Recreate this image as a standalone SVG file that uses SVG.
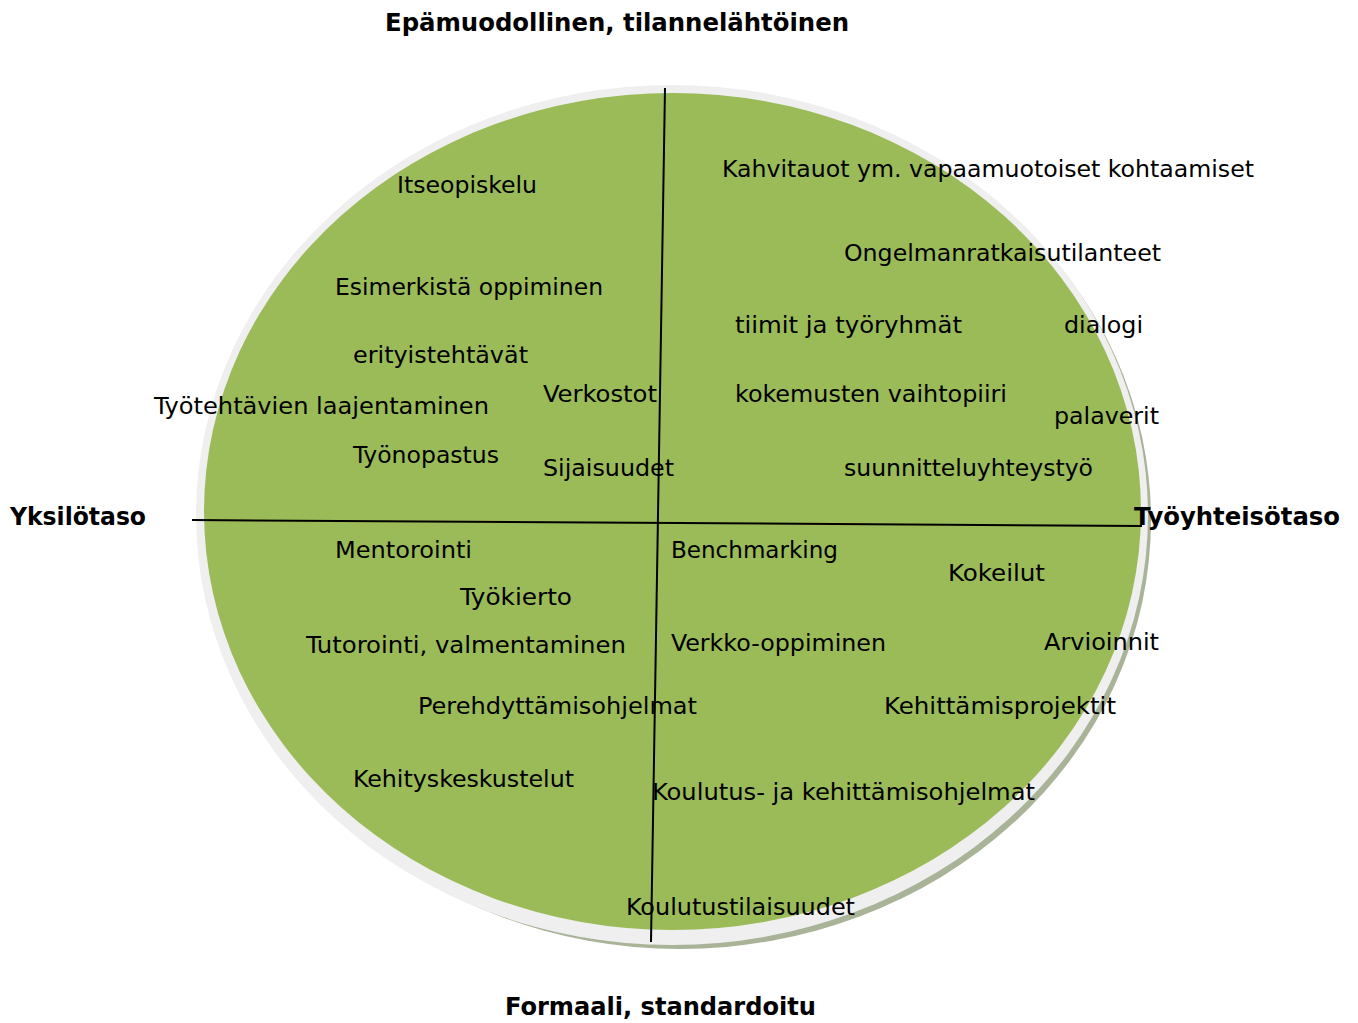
<svg xmlns="http://www.w3.org/2000/svg" width="1358" height="1023" viewBox="0 0 1358 1023">
<style>
.t{font-family:"DejaVu Sans Condensed","DejaVu Sans",sans-serif;font-size:23.5px;fill:#000}
.h{font-family:"DejaVu Sans Condensed","DejaVu Sans",sans-serif;font-size:25px;font-weight:bold;fill:#000}
.ax{stroke:#000;stroke-width:2;fill:none}
</style>
<rect width="1358" height="1023" fill="#fff"/>
<g id="circle">
<ellipse cx="680" cy="520" rx="471" ry="429" fill="#a8b398"/>
<ellipse cx="672" cy="515" rx="476" ry="430" fill="#efefef"/>
<ellipse cx="672.5" cy="511.5" rx="468.5" ry="418.5" fill="#9bbb59"/>
</g>
<g id="axes">
<line class="ax" x1="665" y1="88" x2="651" y2="942"/>
<line class="ax" x1="192" y1="520" x2="1142" y2="526"/>
</g>
<g id="axis-labels">
<text class="h" x="385" y="31" textLength="464" lengthAdjust="spacingAndGlyphs">Epämuodollinen, tilannelähtöinen</text>
<text class="h" x="505" y="1015" textLength="311" lengthAdjust="spacingAndGlyphs">Formaali, standardoitu</text>
<text class="h" x="10" y="525" textLength="136" lengthAdjust="spacingAndGlyphs">Yksilötaso</text>
<text class="h" x="1134" y="525" textLength="206" lengthAdjust="spacingAndGlyphs">Työyhteisötaso</text>
</g>
<g id="items">
<text class="t" x="397" y="193" textLength="140" lengthAdjust="spacingAndGlyphs">Itseopiskelu</text>
<text class="t" x="722" y="177" textLength="532" lengthAdjust="spacingAndGlyphs">Kahvitauot ym. vapaamuotoiset kohtaamiset</text>
<text class="t" x="844" y="261" textLength="317" lengthAdjust="spacingAndGlyphs">Ongelmanratkaisutilanteet</text>
<text class="t" x="335" y="295" textLength="268" lengthAdjust="spacingAndGlyphs">Esimerkistä oppiminen</text>
<text class="t" x="735" y="333" textLength="227" lengthAdjust="spacingAndGlyphs">tiimit ja työryhmät</text>
<text class="t" x="1064" y="333" textLength="79" lengthAdjust="spacingAndGlyphs">dialogi</text>
<text class="t" x="353" y="363" textLength="175" lengthAdjust="spacingAndGlyphs">erityistehtävät</text>
<text class="t" x="543" y="402" textLength="114" lengthAdjust="spacingAndGlyphs">Verkostot</text>
<text class="t" x="735" y="402" textLength="272" lengthAdjust="spacingAndGlyphs">kokemusten vaihtopiiri</text>
<text class="t" x="154" y="414" textLength="335" lengthAdjust="spacingAndGlyphs">Työtehtävien laajentaminen</text>
<text class="t" x="1054" y="424" textLength="105" lengthAdjust="spacingAndGlyphs">palaverit</text>
<text class="t" x="353" y="463" textLength="146" lengthAdjust="spacingAndGlyphs">Työnopastus</text>
<text class="t" x="543" y="476" textLength="131" lengthAdjust="spacingAndGlyphs">Sijaisuudet</text>
<text class="t" x="844" y="476" textLength="249" lengthAdjust="spacingAndGlyphs">suunnitteluyhteystyö</text>
<text class="t" x="335" y="558" textLength="137" lengthAdjust="spacingAndGlyphs">Mentorointi</text>
<text class="t" x="671" y="558" textLength="167" lengthAdjust="spacingAndGlyphs">Benchmarking</text>
<text class="t" x="948" y="581" textLength="97" lengthAdjust="spacingAndGlyphs">Kokeilut</text>
<text class="t" x="460" y="605" textLength="112" lengthAdjust="spacingAndGlyphs">Työkierto</text>
<text class="t" x="306" y="653" textLength="320" lengthAdjust="spacingAndGlyphs">Tutorointi, valmentaminen</text>
<text class="t" x="671" y="651" textLength="215" lengthAdjust="spacingAndGlyphs">Verkko-oppiminen</text>
<text class="t" x="1044" y="650" textLength="115" lengthAdjust="spacingAndGlyphs">Arvioinnit</text>
<text class="t" x="418" y="714" textLength="279" lengthAdjust="spacingAndGlyphs">Perehdyttämisohjelmat</text>
<text class="t" x="884" y="714" textLength="232" lengthAdjust="spacingAndGlyphs">Kehittämisprojektit</text>
<text class="t" x="353" y="787" textLength="221" lengthAdjust="spacingAndGlyphs">Kehityskeskustelut</text>
<text class="t" x="652" y="800" textLength="383" lengthAdjust="spacingAndGlyphs">Koulutus- ja kehittämisohjelmat</text>
<text class="t" x="626" y="915" textLength="229" lengthAdjust="spacingAndGlyphs">Koulutustilaisuudet</text>
</g>
</svg>
